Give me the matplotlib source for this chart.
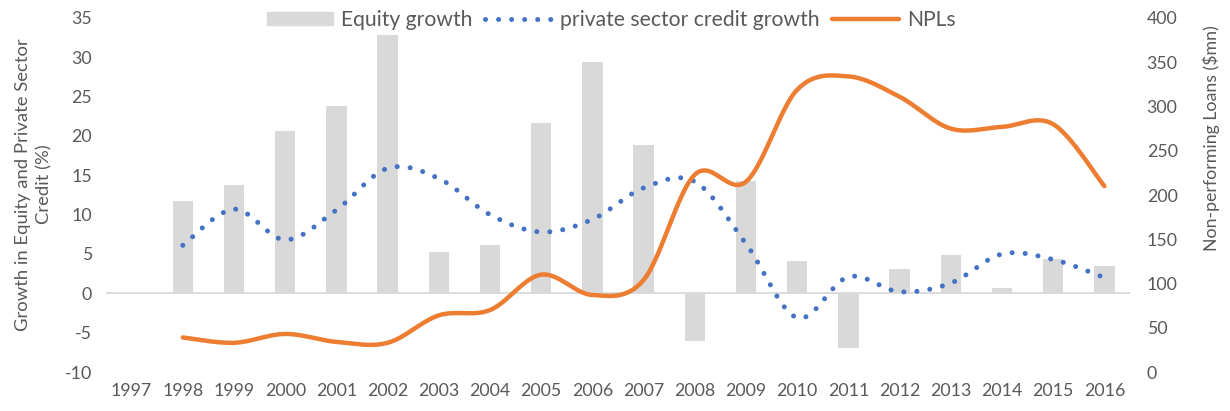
import numpy as np
import matplotlib
matplotlib.use("Agg")
import matplotlib.pyplot as plt
from matplotlib.patches import Patch
from matplotlib.lines import Line2D

plt.rcParams['font.family'] = ['Lato', 'DejaVu Sans']
plt.rcParams['axes.unicode_minus'] = False

years = [str(y) for y in range(1997, 2017)]
equity = [np.nan, 11.7, 13.8, 20.6, 23.8, 32.9, 5.2, 6.1, 21.7, 29.4, 18.8,
          -6.1, 14.3, 4.1, -7.0, 3.1, 4.9, 0.7, 4.4, 3.5]
credit = [np.nan, 6.1, 10.7, 6.8, 10.6, 15.9, 14.6, 10.0, 7.8, 9.4, 13.4,
          14.2, 6.3, -3.1, 2.1, 0.2, 1.3, 5.0, 4.3, 2.0]
npl = [np.nan, 39, 33, 43, 34, 33, 64, 70, 110, 87, 104,
       223, 215, 319, 334, 311, 275, 277, 280, 210]

GREY = '#595959'


def smooth(xs, ys, n=30):
    # excel style smoothed line: bezier segments with catmull-rom handles
    xs = np.asarray(xs, float)
    ys = np.asarray(ys, float)
    p = np.column_stack([xs, ys])
    out = []
    for i in range(len(p) - 1):
        p0 = p[i - 1] if i > 0 else p[i]
        p3 = p[i + 2] if i + 2 < len(p) else p[i + 1]
        a, d = p[i], p[i + 1]
        b = a + (d - p0) / 6
        c = d - (p3 - a) / 6
        t = np.linspace(0, 1, n)[:, None]
        seg = (1 - t) ** 3 * a + 3 * (1 - t) ** 2 * t * b + 3 * (1 - t) * t ** 2 * c + t ** 3 * d
        out.append(seg if i == 0 else seg[1:])
    out = np.vstack(out)
    return out[:, 0], out[:, 1]


x = np.arange(len(years))

fig = plt.figure(figsize=(12.3, 4.11), dpi=100)
ax = fig.add_axes([106 / 1230, 1 - 372 / 411, 1024 / 1230, 354 / 411])
ax2 = ax.twinx()

ax.bar(x, equity, width=0.4, color='#d9d9d9', zorder=2)
ax.axhline(0, color='#d9d9d9', lw=1.3, zorder=1)

dots = dict(color='#4472c4', lw=3.6, linestyle=(0, (0.01, 2.6)), dash_capstyle='round')
ok = ~np.isnan(credit)
cx, cy = smooth(x[ok], np.array(credit)[ok])
ax.plot(cx, cy, zorder=3, **dots)

ok = ~np.isnan(npl)
nx, ny = smooth(x[ok], np.array(npl)[ok])
ax2.plot(nx, ny, color='#ed7d31', lw=3.2, solid_capstyle='round', zorder=4)

ax.set_xlim(-0.5, len(years) - 0.5)
ax.set_ylim(-10, 35)
ax.set_yticks(range(-10, 36, 5))
ax2.set_ylim(0, 400)
ax2.set_yticks(range(0, 401, 50))
ax.set_xticks(x)
ax.set_xticklabels(years)

for a in (ax, ax2):
    for s in a.spines.values():
        s.set_visible(False)
    a.tick_params(length=0, labelsize=12.8, colors=GREY)
ax.tick_params(axis='x', pad=8)
ax.tick_params(axis='y', pad=10)
ax2.tick_params(axis='y', pad=12)

ax.set_ylabel('Growth in Equity and Private Sector\nCredit (%)', fontsize=13.3,
              color=GREY, linespacing=1.45)
ax.yaxis.set_label_coords(-0.052, 0.53)
ax2.set_ylabel('Non-performing Loans ($mn)', fontsize=12.8, color=GREY)
ax2.yaxis.set_label_coords(1.071, 0.66)

handles = [Patch(color='#d9d9d9'), Line2D([], [], **dots),
           Line2D([], [], color='#ed7d31', lw=3.2, solid_capstyle='round')]
labels = ['Equity growth', 'private sector credit growth', 'NPLs']
leg = fig.legend(handles, labels, loc='center', bbox_to_anchor=(611 / 1230, 1 - 20 / 411),
                 ncol=3, frameon=False, fontsize=15.2, handlelength=3.15,
                 handleheight=0.62, handletextpad=0.38, columnspacing=0.6)
for t in leg.get_texts():
    t.set_color(GREY)

fig.savefig('out.png', dpi=100)
